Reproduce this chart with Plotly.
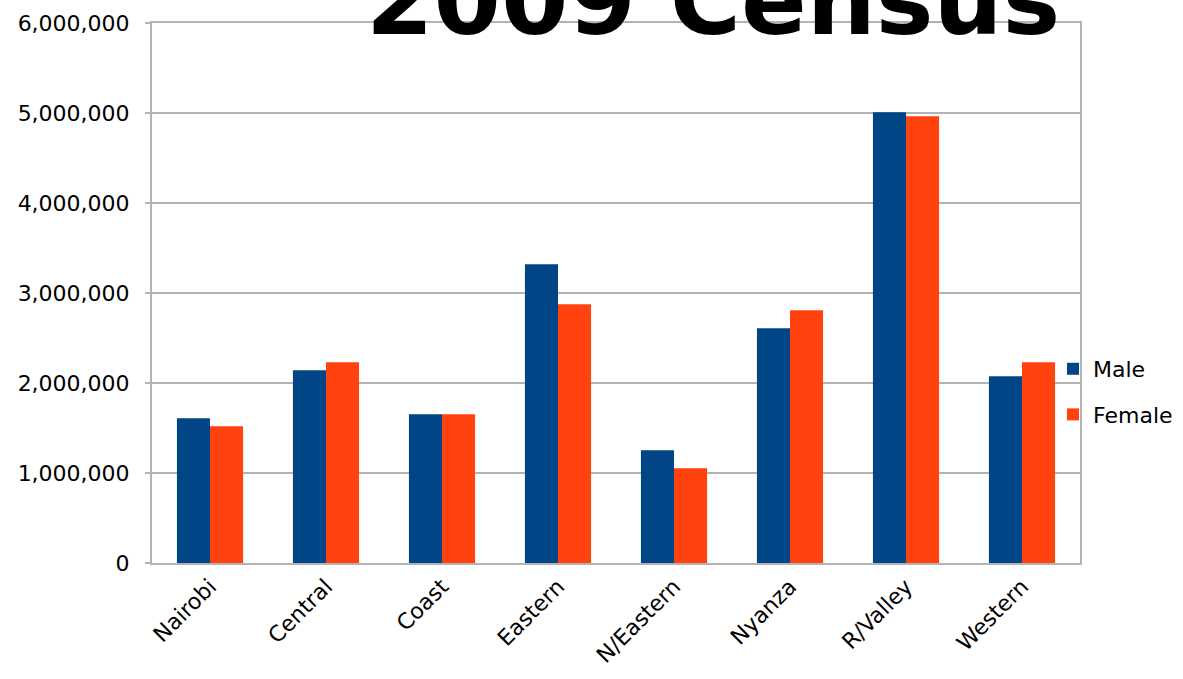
import plotly.graph_objects as go

regions = ["Nairobi", "Central", "Coast", "Eastern", "N/Eastern", "Nyanza", "R/Valley", "Western"]
male = [1608000, 2141000, 1652000, 3319000, 1252000, 2608000, 5008000, 2074000]
female = [1519000, 2230000, 1652000, 2874000, 1052000, 2808000, 4963000, 2230000]
y_ticks = [0, 1000000, 2000000, 3000000, 4000000, 5000000, 6000000]
title_text = "2009 Census"

FONT = "DejaVu Sans"
GRID = "#b3b3b3"
FS = 22

fig = go.Figure()
fig.add_trace(go.Bar(x=regions, y=male, name="Male", marker=dict(color="#004586", line=dict(width=0)), legendgroup="m"))
fig.add_trace(go.Bar(x=regions, y=female, name="Female", marker=dict(color="#ff420e", line=dict(width=0)), legendgroup="f"))

fig.update_layout(
    width=1183, height=679,
    margin=dict(l=152, r=103, t=23, b=116, autoexpand=False),
    paper_bgcolor="white", plot_bgcolor="white",
    barmode="group", bargap=0.43, bargroupgap=0,
    font=dict(family=FONT, size=FS, color="black"),
    showlegend=True,
    legend=dict(x=0.9709, xanchor="left", y=0.3167, yanchor="middle",
                font=dict(family=FONT, size=FS, color="black"),
                tracegroupgap=14, bgcolor="rgba(0,0,0,0)"),
    xaxis=dict(tickangle=-45, showline=True, linecolor=GRID, linewidth=2, mirror=True,
               ticks="", showgrid=False, tickfont=dict(family=FONT, size=FS)),
    yaxis=dict(range=[0, 6000000], tickvals=y_ticks, tickformat=",d",
               showline=True, linecolor=GRID, linewidth=2, mirror=True,
               gridcolor=GRID, gridwidth=2, ticks="outside", ticklen=5, tickcolor=GRID, tickwidth=2,
               ticklabelstandoff=11, tickfont=dict(family=FONT, size=FS), zeroline=False),
    annotations=[dict(text="<b>" + title_text + "</b>", xref="paper", yref="paper",
                      x=0.6045, y=0.933, xanchor="center", yanchor="bottom", showarrow=False,
                      font=dict(family="DejaVu Sans", size=97, color="black"))],
)

fig.write_html("out.html", config={"displayModeBar": False},
               post_script="document.body.style.margin='0';")
